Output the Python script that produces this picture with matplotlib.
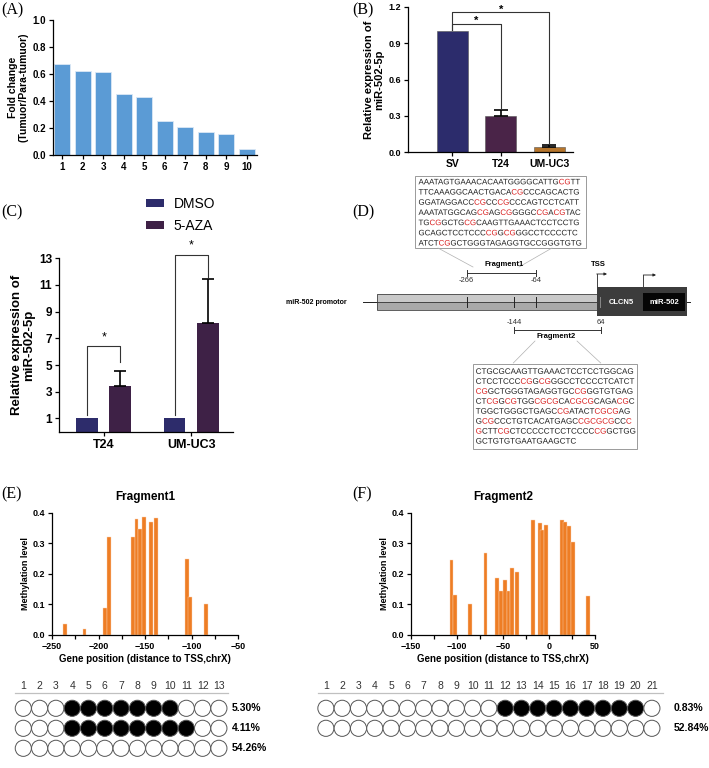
import matplotlib
matplotlib.use("Agg")
import matplotlib.pyplot as plt
from matplotlib.patches import Rectangle, PathPatch
from matplotlib.ticker import MultipleLocator, FormatStrFormatter
from matplotlib.font_manager import FontProperties
from matplotlib.textpath import TextPath
from matplotlib.transforms import Bbox, Affine2D

plt.rcParams['font.family'] = ['Liberation Sans', 'DejaVu Sans']
plt.rcParams['axes.linewidth'] = 0.9
plt.rcParams['xtick.direction'] = 'out'
plt.rcParams['ytick.direction'] = 'out'

W, H = 709, 768
RED = '#d92020'

# (A) fold change per sample
a_samples = list(range(1, 11))
a_fold = [0.675, 0.625, 0.615, 0.455, 0.43, 0.25, 0.21, 0.17, 0.155, 0.045]

# (B) cell lines
b_cells = ['SV', 'T24', 'UM-UC3']
b_expr = [1.0, 0.30, 0.04]
b_err = [0.0, 0.045, 0.015]
b_colors = ['#2c2c6c', '#4a2448', '#b5752c']

# (C) DMSO vs 5-AZA
c_cells = ['T24', 'UM-UC3']
c_dmso = [1.0, 1.0]
c_aza = [3.4, 8.15]
c_aza_err = [1.15, 3.3]

# (D) promoter sequences, CpG sites in []
frag1_seq = [
    "AAATAGTGAAACACAATGGGGCATTG[CG]TT",
    "TTCAAAGGCAACTGACA[CG]CCCAGCACTG",
    "GGATAGGACC[CG]CC[CG]CCCAGTCCTCATT",
    "AAATATGGCAG[CG]AG[CG]GGGC[CG]A[CG]TAC",
    "TG[CG]GCTG[CG]CAAGTTGAAACTCCTCCTG",
    "GCAGCTCCTCCC[CG]G[CG]GGCCTCCCCTC",
    "ATCT[CG]GCTGGGTAGAGGTGCCGGGTGTG",
]
frag2_seq = [
    "CTGCGCAAGTTGAAACTCCTCCTGGCAG",
    "CTCCTCCC[CG]G[CG]GGCCTCCCCTCATCT",
    "[CG]GCTGGGTAGAGGTGC[CG]GGTGTGAG",
    "CT[CG]G[CG]TGG[CG][CG]CA[CG][CG]CAGA[CG]C",
    "TGGCTGGGCTGAGC[CG]ATACT[CG][CG]AG",
    "G[CG]CCCTGTCACATGAGC[CG][CG][CG]CC[C]",
    "[G]CTT[CG]CTCCCCCTCCTCCCC[CG]GCTGG",
    "GCTGTGTGAATGAAGCTC",
]

# (E) Fragment1 methylation
e_pos = [-236, -215, -193, -189, -163, -159, -155, -151, -143.5, -138, -105, -101.5, -84.5]
e_level = [0.035, 0.02, 0.087, 0.32, 0.32, 0.38, 0.348, 0.387, 0.368, 0.382, 0.25, 0.125, 0.10]
e_sites = list(range(1, 14))
e_rows = [list(range(4, 11)), list(range(4, 12)), []]
e_pct = ['5.30%', '4.11%', '54.26%']

# (F) Fragment2 methylation
f_pos = [-106, -102, -86, -69, -56.5, -52, -47.5, -44, -40, -35, -17.7, -10, -7.5, -3.6,
         13.8, 17.7, 21.7, 26, 42.7]
f_level = [0.245, 0.132, 0.103, 0.267, 0.185, 0.145, 0.18, 0.145, 0.22, 0.207, 0.375, 0.365,
           0.343, 0.36, 0.376, 0.37, 0.355, 0.303, 0.126]
f_sites = list(range(1, 22))
f_rows = [list(range(12, 21)), []]
f_pct = ['0.83%', '52.84%']


def px_axes(x0, y0, x1, y1):
    return fig.add_axes([x0 / W, 1 - y1 / H, (x1 - x0) / W, (y1 - y0) / H])


def style(ax, size):
    ax.spines['top'].set_visible(False)
    ax.spines['right'].set_visible(False)
    ax.tick_params(length=3, width=0.9, labelsize=size, pad=2)
    for lab in ax.get_xticklabels() + ax.get_yticklabels():
        lab.set_fontweight('bold')


SEQ_PROP = FontProperties(family='Liberation Sans')


def seq_line(ax, x, y, line, size):
    # one glyph path per line, filled once per colour span and clipped to that span
    plain, spans, red, start = '', [], False, 0
    for ch in line:
        if ch in '[]':
            if len(plain) > start:
                spans.append((start, len(plain), RED if red else '#222222'))
            start = len(plain)
            red = ch == '['
        else:
            plain += ch
    if len(plain) > start:
        spans.append((start, len(plain), RED if red else '#222222'))
    px = size * 100 / 72
    path = TextPath((0, 0), plain, size=px, prop=SEQ_PROP)
    tr = Affine2D().scale(1, -1).translate(x, y + 0.358 * px) + ax.transData

    def edge(k):
        if k == 0:
            return x - 3
        if k == len(plain):
            return x + 400
        return x + TextPath((0, 0), plain[:k], size=px, prop=SEQ_PROP).get_extents().x1 + 0.35

    for a, b, c in spans:
        patch = PathPatch(path, facecolor=c, edgecolor='none', lw=0, transform=tr)
        ax.add_patch(patch)
        (dx0, dy0), (dx1, dy1) = ax.transData.transform([(edge(a), y - 7), (edge(b), y + 7)])
        patch.set_clip_box(Bbox.from_extents(min(dx0, dx1), min(dy0, dy1),
                                             max(dx0, dx1), max(dy0, dy1)))


fig = plt.figure(figsize=(W / 100, H / 100), dpi=100)

# overlay for labels and the promoter diagram
ov = fig.add_axes([0, 0, 1, 1])
ov.set_xlim(0, W)
ov.set_ylim(H, 0)
ov.axis('off')
ov.patch.set_alpha(0)

for lab, x, y in [('(A)', 1, 10), ('(B)', 352, 10), ('(C)', 1, 212), ('(D)', 352, 212),
                  ('(E)', 1, 494), ('(F)', 352, 494)]:
    ov.text(x, y, lab, fontsize=11.5, family=['Liberation Serif', 'DejaVu Serif'],
            va='center', ha='left')

# ---- (A)
ax = px_axes(53, 20, 257, 155)
ax.bar(a_samples, a_fold, width=0.8, color='#5b9bd5', edgecolor='#dbe8f5', linewidth=0.6)
ax.set_xlim(0.55, 10.5)
ax.set_ylim(0, 1.0)
ax.set_xticks(a_samples)
ax.yaxis.set_major_locator(MultipleLocator(0.2))
ax.yaxis.set_major_formatter(FormatStrFormatter('%.1f'))
ax.set_ylabel('Fold change\n(Tumuor/Para-tumuor)', fontsize=7.5, fontweight='bold', labelpad=3,
              linespacing=1.0)
style(ax, 7)

# ---- (B)
ax = px_axes(408, 7, 573, 152)
bx = list(range(len(b_cells)))
ax.bar(bx, b_expr, width=0.64, color=b_colors, edgecolor='#555555', linewidth=0.4)
ax.errorbar(bx[1:], b_expr[1:], yerr=[[0, 0], b_err[1:]], fmt='none', ecolor='k',
            elinewidth=1.2, capsize=5, capthick=1.2)
ax.set_xlim(-0.91, 2.49)
ax.set_ylim(0, 1.2)
ax.set_xticks(bx)
ax.set_xticklabels(b_cells)
ax.yaxis.set_major_locator(MultipleLocator(0.3))
ax.yaxis.set_major_formatter(FormatStrFormatter('%.1f'))
ax.set_ylabel('Relative expression of\nmiR-502-5p', fontsize=8, fontweight='bold', labelpad=3,
              linespacing=1.0)
ax.plot([0, 0, 1, 1], [1.01, 1.06, 1.06, 0.36], color='#333333', lw=0.8, clip_on=False)
ax.plot([0, 0, 2, 2], [1.01, 1.156, 1.156, 0.065], color='#333333', lw=0.8, clip_on=False)
ax.text(0.5, 1.085, '*', ha='center', va='center', fontsize=8, fontweight='bold')
ax.text(1.0, 1.18, '*', ha='center', va='center', fontsize=8, fontweight='bold', clip_on=False)
style(ax, 7.5)
ax.tick_params(axis='y', labelsize=6.5)

# ---- (C)
ax = px_axes(59.3, 258.3, 233, 431.7)
cx = list(range(len(c_cells)))
off = 0.19
ax.bar([x - off for x in cx], c_dmso, width=0.25, color='#2d2c6b', label='DMSO')
ax.bar([x + off for x in cx], c_aza, width=0.25, color='#3e2146', label='5-AZA')
ax.errorbar([x + off for x in cx], c_aza, yerr=[[0, 0], c_aza_err], fmt='none', ecolor='k',
            elinewidth=1.2, capsize=4, capthick=1.2)
ax.set_xlim(-0.51, 1.48)
ax.set_ylim(0, 13)
ax.set_xticks(cx)
ax.set_xticklabels(c_cells)
ax.set_yticks(range(1, 14, 2))
ax.set_ylabel('Relative expression of\nmiR-502-5p', fontsize=9.5, fontweight='bold', labelpad=3,
              linespacing=1.0)
ax.plot([-off, -off, off, off], [1.25, 6.42, 6.42, 5.25], color='#333333', lw=0.8)
ax.plot([1 - off, 1 - off, 1 + off, 1 + off], [1.25, 13.25, 13.25, 11.62], color='#333333',
        lw=0.8, clip_on=False)
ax.text(0, 7.1, '*', ha='center', va='center', fontsize=9)
ax.text(1, 14.0, '*', ha='center', va='center', fontsize=9, clip_on=False)
style(ax, 8.5)
ax.tick_params(axis='x', labelsize=9)
ax.legend(loc='upper left', bbox_to_anchor=(146 / W, 1 - 197 / H), bbox_transform=fig.transFigure,
          frameon=False, fontsize=10, handlelength=1.3, handleheight=0.5, handletextpad=0.7,
          labelspacing=0.6, borderpad=0, borderaxespad=0)

# ---- (D) promoter diagram
ov.add_patch(Rectangle((415, 176), 171, 72, fill=False, edgecolor='#8a8a8a', lw=0.6))
for k, line in enumerate(frag1_seq):
    seq_line(ov, 418.5, 181.5 + k * 10.2, line, 5.7)
ov.plot([438, 473], [248, 267], color='#b0b0b0', lw=0.5)
ov.plot([552, 519], [248, 267], color='#b0b0b0', lw=0.5)
ov.text(504, 264, 'Fragment1', fontsize=5.5, fontweight='bold', ha='center', va='center')
ov.plot([466.7, 536], [273, 273], color='#333333', lw=0.7)
for x in (466.7, 536):
    ov.plot([x, x], [270, 276], color='#333333', lw=0.7)
ov.text(466.7, 281, '-266', fontsize=5.5, ha='center', va='center', color='#333333')
ov.text(536, 281, '-64', fontsize=5.5, ha='center', va='center', color='#333333')

ov.plot([363, 690], [302, 302], color='#222222', lw=0.7, zorder=1)
ov.add_patch(Rectangle((377, 294), 220, 8, facecolor='#c9c9c9', edgecolor='none', zorder=2))
ov.add_patch(Rectangle((377, 302), 220, 8, facecolor='#a9a9a9', edgecolor='none', zorder=2))
ov.add_patch(Rectangle((377, 294), 220, 16, fill=False, edgecolor='#444444', lw=0.6, zorder=3))
ov.plot([377, 597], [302, 302], color='#333333', lw=0.6, zorder=3)
for x in (466.7, 514, 536):
    ov.plot([x, x], [297, 307], color='#222222', lw=0.7, zorder=4)
ov.add_patch(Rectangle((597, 287), 90, 29, facecolor='#3c3c3c', edgecolor='none', zorder=4))
ov.add_patch(Rectangle((643, 292.7), 42, 18.3, facecolor='#060606', edgecolor='none', zorder=5))
ov.plot([600, 600], [297, 307], color='#888888', lw=0.7, zorder=5)
ov.text(621, 302, 'CLCN5', color='white', fontsize=5.5, fontweight='bold', ha='center',
        va='center', zorder=6)
ov.text(664, 302, 'miR-502', color='white', fontsize=5.5, fontweight='bold', ha='center',
        va='center', zorder=6)
ov.text(347, 302, 'miR-502 promotor', fontsize=5, fontweight='bold', ha='right', va='center')
ov.annotate('', xy=(607, 274), xytext=(596.7, 274),
            arrowprops=dict(arrowstyle='-|>', lw=0.6, color='#222222', mutation_scale=4,
                            shrinkA=0, shrinkB=0))
ov.plot([596.7, 596.7], [287, 274], color='#222222', lw=0.6)
ov.text(598, 264, 'TSS', fontsize=5.5, fontweight='bold', ha='center', va='center')
ov.annotate('', xy=(656, 275), xytext=(643.3, 275),
            arrowprops=dict(arrowstyle='-|>', lw=0.6, color='#222222', mutation_scale=4,
                            shrinkA=0, shrinkB=0))
ov.plot([643.3, 643.3], [292.7, 275], color='#222222', lw=0.6)

ov.text(514, 322, '-144', fontsize=5.5, ha='center', va='center', color='#333333')
ov.text(600.7, 322, '64', fontsize=5.5, ha='center', va='center', color='#333333')
ov.plot([514, 600.7], [330, 330], color='#333333', lw=0.7)
for x in (514, 600.7):
    ov.plot([x, x], [327, 333], color='#333333', lw=0.7)
ov.text(556, 336, 'Fragment2', fontsize=5.5, fontweight='bold', ha='center', va='center')
ov.plot([535, 513.3], [341, 363], color='#b0b0b0', lw=0.5)
ov.plot([577, 600.7], [341, 363], color='#b0b0b0', lw=0.5)
ov.add_patch(Rectangle((473.3, 364), 164, 85.3, fill=False, edgecolor='#8a8a8a', lw=0.6))
for k, line in enumerate(frag2_seq):
    seq_line(ov, 475.7, 371 + k * 9.96, line, 5.8)

# ---- (E) and (F) methylation bars
for (x0, x1, xlim, pos, lev, title) in [
        (52, 238, (-250, -50), e_pos, e_level, 'Fragment1'),
        (411, 595, (-150, 50), f_pos, f_level, 'Fragment2')]:
    ax = px_axes(x0, 512.7, x1, 635)
    ax.bar(pos, lev, width=4, color='#ee7d24', edgecolor='#fbd3b3', linewidth=0.3)
    ax.set_xlim(*xlim)
    ax.set_ylim(0, 0.4)
    ax.xaxis.set_major_locator(MultipleLocator(50))
    ax.xaxis.set_minor_locator(MultipleLocator(25))
    ax.yaxis.set_major_locator(MultipleLocator(0.1))
    ax.yaxis.set_major_formatter(FormatStrFormatter('%.1f'))
    ax.tick_params(which='minor', length=3, width=0.9)
    ax.set_title(title, fontsize=8.5, fontweight='bold', pad=9)
    ax.set_ylabel('Methylation level', fontsize=6.5, fontweight='bold', labelpad=2)
    ax.set_xlabel('Gene position (distance to TSS,chrX)', fontsize=7, fontweight='bold',
                  labelpad=2)
    style(ax, 6.5)

# ---- CpG lollipop rows
ROW_Y = [708.3, 728.3, 748.3]
STEP = 16.3
for (x0, x1, first, sites, rows, pct, line_px, pct_x) in [
        (0, 305, 23.3, e_sites, e_rows, e_pct, (15, 228.3), 231.7),
        (305, 709, 325.9, f_sites, f_rows, f_pct, (318, 663), 673.3)]:
    ax = px_axes(x0, 670, x1, 768)
    ax.set_xlim(1 - (first - x0) / STEP, 1 + (x1 - first) / STEP)
    ax.set_ylim(768, 670)
    ax.axis('off')
    for s in sites:
        ax.text(s, 686.5, str(s), fontsize=7.5, ha='center', va='center', color='#333333')
    ax.plot([1 + (p - first) / STEP for p in line_px], [693.3, 693.3], color='#c0c0c0', lw=0.9)
    for r, filled in enumerate(rows):
        fc = ['black' if s in filled else 'white' for s in sites]
        ax.scatter(sites, [ROW_Y[r]] * len(sites), s=135, c=fc, edgecolors='#555555',
                   linewidths=0.7, zorder=3)
        ax.text(1 + (pct_x - first) / STEP, ROW_Y[r], pct[r], fontsize=7.5, fontweight='bold',
                ha='left', va='center')

fig.savefig('out.png', dpi=100)
